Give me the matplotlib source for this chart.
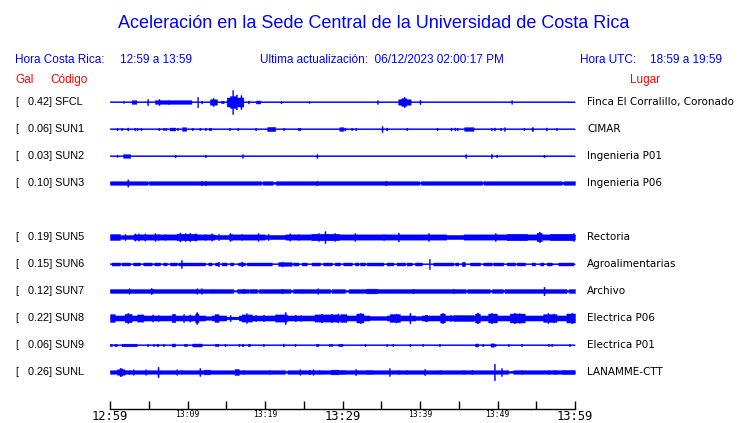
import numpy as np
import matplotlib
matplotlib.use('Agg')
import matplotlib.pyplot as plt

# ---- data (time in minutes after 12:59, amplitudes in Gal) ----
STATIONS = ['SFCL', 'SUN1', 'SUN2', 'SUN3', 'SUN4', 'SUN5', 'SUN6', 'SUN7', 'SUN8', 'SUN9', 'SUNL']
PEAK_GAL = [0.42, 0.06, 0.03, 0.10, None, 0.19, 0.15, 0.12, 0.22, 0.06, 0.26]
PLACES = ['Finca El Corralillo, Coronado', 'CIMAR', 'Ingenieria P01', 'Ingenieria P06', None,
          'Rectoria', 'Agroalimentarias', 'Archivo', 'Electrica P06', 'Electrica P01', 'LANAMME-CTT']
TICK_LABELS = ['12:59', '', '13:09', '', '13:19', '', '13:29', '', '13:39', '', '13:49', '', '13:59']

# background noise level per station
BASE = {'SFCL': 0.0, 'SUN1': 0.0, 'SUN2': 0.0, 'SUN3': 0.06, 'SUN5': 0.088, 'SUN6': 0.0,
        'SUN7': 0.065, 'SUN8': 0.085, 'SUN9': 0.0, 'SUNL': 0.06}

# (start, end, amplitude) segments
sfcl_bursts = [(2.8, 3.4, 0.06), (5.8, 10.5, 0.06), (12.9, 13.8, 0.09), (15.05, 17.2, 0.15),
               (15.5, 16.3, 0.2), (19.0, 19.4, 0.05), (37.2, 38.8, 0.09), (37.6, 38.2, 0.13)]
sun1_bursts = [(7.7, 8.4, 0.05), (9.3, 9.8, 0.06), (20.3, 21.3, 0.07), (29.6, 30.1, 0.06),
               (45.7, 46.9, 0.06), (54.4, 54.6, 0.06)]
sun2_bursts = [(1.7, 2.6, 0.06)]
sun3_bursts = [(4.85, 5.0, 0.03), (19.5, 19.7, 0.035), (21.0, 21.4, 0.03), (39.9, 40.1, 0.03),
               (48.0, 48.2, 0.035), (58.3, 58.5, 0.035)]
sun5_bursts = [(0.0, 1.29, 0.1), (1.29, 3.0, 0.065), (8.6, 11.2, 0.11), (13.5, 15.3, 0.07),
               (20.0, 22.6, 0.07), (26.0, 29.5, 0.11), (43.4, 45.6, 0.07), (51.2, 53.8, 0.11),
               (55.05, 55.7, 0.14), (56.8, 59.8, 0.11)]
sun6_bursts = [(0.22, 1.29, 0.05), (1.5, 2.58, 0.05), (3.0, 3.87, 0.05), (4.3, 5.38, 0.05),
               (5.72, 6.45, 0.05), (6.88, 7.31, 0.05), (7.74, 8.6, 0.05), (8.82, 9.46, 0.05),
               (9.46, 12.26, 0.05), (12.69, 13.12, 0.05), (13.55, 13.98, 0.05), (14.4, 15.05, 0.05),
               (15.48, 15.91, 0.05), (16.56, 17.4, 0.05), (17.63, 20.86, 0.05), (21.7, 23.44, 0.06),
               (23.66, 24.3, 0.05), (24.73, 25.38, 0.05), (26.02, 27.1, 0.05), (27.5, 28.6, 0.05),
               (29.0, 29.68, 0.05), (30.1, 31.18, 0.05), (31.61, 32.05, 0.05), (32.26, 32.9, 0.05),
               (33.12, 35.27, 0.05), (35.7, 36.56, 0.05), (36.99, 38.07, 0.05), (38.28, 38.93, 0.05),
               (39.36, 40.22, 0.05), (41.72, 44.3, 0.05), (44.52, 44.95, 0.05), (45.38, 45.81, 0.06),
               (46.45, 47.74, 0.05), (48.17, 49.25, 0.05), (49.46, 50.75, 0.05), (51.19, 52.26, 0.05),
               (52.48, 53.55, 0.05), (54.41, 54.84, 0.05), (55.49, 55.92, 0.05), (56.35, 57.0, 0.05),
               (57.85, 59.79, 0.05)]
sun7_bursts = [(15.9, 16.4, 0.02), (17.9, 18.0, 0.03), (19.0, 19.2, 0.03), (23.3, 23.6, 0.03),
               (28.4, 28.6, 0.03), (30.3, 30.8, 0.03), (33.1, 34.4, 0.08), (45.9, 46.1, 0.03),
               (49.0, 49.3, 0.03), (50.7, 50.9, 0.03), (58.9, 59.2, 0.03)]
sun8_bursts = [(0.0, 0.6, 0.13), (1.9, 2.8, 0.14), (3.5, 4.3, 0.12), (8.0, 8.4, 0.14),
               (11.0, 11.4, 0.15), (12.3, 13.1, 0.06), (13.5, 14.0, 0.13), (15.0, 16.6, 0.045),
               (17.0, 18.3, 0.12), (21.3, 22.8, 0.12), (26.4, 29.5, 0.12), (29.7, 30.5, 0.13),
               (31.8, 32.7, 0.15), (33.5, 35.7, 0.065), (36.1, 37.4, 0.13), (39.4, 40.2, 0.065),
               (40.6, 40.9, 0.11), (42.6, 43.2, 0.15), (44.3, 46.9, 0.1), (47.1, 47.7, 0.15),
               (48.8, 49.9, 0.15), (51.6, 53.5, 0.15), (55.9, 57.6, 0.13), (58.9, 60.0, 0.15)]
sun9_bursts = [(0.0, 0.22, 0.04), (0.56, 0.86, 0.04), (1.5, 3.44, 0.045), (6.0, 6.24, 0.04),
               (7.96, 8.39, 0.05), (9.55, 9.9, 0.04), (10.62, 11.83, 0.05), (13.55, 13.98, 0.04),
               (17.0, 17.2, 0.04), (17.8, 18.07, 0.04), (26.58, 26.88, 0.04), (29.46, 29.98, 0.04),
               (47.1, 47.5, 0.05), (49.1, 49.55, 0.055)]
sunl_bursts = [(0.9, 1.9, 0.09), (12.1, 12.9, 0.08), (16.1, 16.6, 0.1), (22.6, 22.9, 0.025),
               (28.5, 29.5, 0.08), (29.7, 30.3, 0.07), (33.1, 33.8, 0.07), (42.5, 42.7, 0.07),
               (51.4, 52.0, 0.03), (57.2, 57.6, 0.07), (58.3, 59.8, 0.07)]

# (time, amplitude) single spikes
sfcl_spikes = [(1.72, 0.03), (4.86, 0.1), (6.32, 0.1), (7.5, 0.07), (9.0, 0.06), (11.31, 0.17),
               (11.83, 0.05), (13.3, 0.13), (14.4, 0.04), (14.6, 0.04), (15.83, 0.4), (16.3, 0.25),
               (16.9, 0.23), (17.85, 0.05), (18.9, 0.05), (22.06, 0.04), (25.68, 0.03), (34.5, 0.06),
               (37.94, 0.17), (40.0, 0.07), (51.83, 0.06)]
sun1_spikes = [(0.9, 0.04), (1.5, 0.04), (2.3, 0.05), (3.2, 0.04), (3.5, 0.04), (4.0, 0.04),
               (6.3, 0.04), (6.9, 0.04), (7.2, 0.04), (8.7, 0.04), (10.6, 0.04), (11.6, 0.04),
               (12.3, 0.04), (12.8, 0.04), (13.0, 0.04), (15.4, 0.04), (16.5, 0.04), (18.8, 0.04),
               (22.4, 0.04), (24.3, 0.04), (24.5, 0.04), (30.3, 0.05), (31.2, 0.04), (31.7, 0.04),
               (35.1, 0.1), (35.7, 0.05), (38.3, 0.04), (42.2, 0.04), (44.0, 0.05), (44.5, 0.05),
               (44.8, 0.04), (49.2, 0.04), (49.6, 0.05), (50.4, 0.04), (50.9, 0.06), (53.4, 0.04),
               (56.3, 0.05), (57.6, 0.04)]
sun2_spikes = [(0.9, 0.03), (8.4, 0.04), (12.3, 0.04), (17.1, 0.06), (26.7, 0.06), (45.9, 0.06),
               (49.2, 0.07), (49.9, 0.04), (56.0, 0.04)]
sun3_spikes = [(2.3, 0.12), (11.8, 0.08), (12.3, 0.08), (26.7, 0.08), (35.6, 0.08)]
sun5_spikes = [(1.94, 0.1), (3.23, 0.12), (3.66, 0.12), (4.5, 0.12), (5.8, 0.13), (6.2, 0.1),
               (7.1, 0.1), (9.03, 0.15), (9.7, 0.13), (10.3, 0.14), (11.0, 0.12), (12.26, 0.1),
               (13.1, 0.12), (14.0, 0.1), (15.48, 0.13), (15.7, 0.1), (17.0, 0.1), (19.1, 0.13),
               (20.4, 0.1), (23.2, 0.12), (24.3, 0.1), (26.9, 0.13), (27.74, 0.2), (29.0, 0.13),
               (31.6, 0.13), (35.3, 0.1), (37.2, 0.15), (41.1, 0.13), (49.7, 0.13), (55.4, 0.18),
               (59.8, 0.13)]
sun6_spikes = [(9.2, 0.13), (14.0, 0.08), (17.0, 0.08), (22.2, 0.08), (41.21, 0.17), (45.6, 0.08)]
sun7_spikes = [(2.45, 0.09), (5.3, 0.1), (5.5, 0.08), (11.2, 0.09), (11.8, 0.09), (13.2, 0.07),
               (17.2, 0.08), (22.2, 0.08), (24.8, 0.07), (26.8, 0.09), (33.6, 0.08), (39.1, 0.08),
               (44.3, 0.08), (56.0, 0.14)]
sun8_spikes = [(2.3, 0.17), (5.5, 0.12), (6.2, 0.1), (9.5, 0.13), (10.3, 0.12), (11.2, 0.2),
               (15.5, 0.1), (17.6, 0.16), (18.8, 0.1), (19.8, 0.11), (22.6, 0.2), (23.9, 0.11),
               (24.6, 0.1), (27.3, 0.15), (28.6, 0.14), (29.4, 0.15), (32.3, 0.17), (36.9, 0.15),
               (38.7, 0.17), (42.9, 0.17), (43.9, 0.1), (47.4, 0.18), (49.2, 0.17), (52.2, 0.18),
               (52.8, 0.16), (56.5, 0.17), (57.2, 0.15), (59.6, 0.18)]
sun9_spikes = [(4.86, 0.04), (5.6, 0.04), (6.88, 0.04), (14.84, 0.04), (16.65, 0.04),
               (19.78, 0.04), (22.36, 0.05), (23.87, 0.04), (28.3, 0.04), (28.6, 0.04), (32.9, 0.04),
               (35.7, 0.04), (36.5, 0.04), (38.7, 0.04), (40.35, 0.04), (42.5, 0.04), (48.1, 0.04),
               (49.68, 0.04), (51.4, 0.04), (53.1, 0.04), (56.56, 0.04), (57.0, 0.04), (59.27, 0.04)]
sunl_spikes = [(1.3, 0.14), (1.5, 0.12), (2.45, 0.07), (3.0, 0.09), (4.6, 0.09), (6.2, 0.17),
               (8.6, 0.09), (9.2, 0.07), (11.6, 0.13), (17.2, 0.07), (20.6, 0.07), (24.5, 0.09),
               (25.7, 0.08), (26.2, 0.09), (27.0, 0.07), (31.7, 0.1), (36.05, 0.13), (37.2, 0.07),
               (38.3, 0.07), (40.6, 0.1), (45.6, 0.07), (46.7, 0.07), (49.6, 0.27), (50.5, 0.13),
               (53.1, 0.07), (56.6, 0.07)]

BURSTS = {'SFCL': sfcl_bursts, 'SUN1': sun1_bursts, 'SUN2': sun2_bursts, 'SUN3': sun3_bursts,
          'SUN5': sun5_bursts, 'SUN6': sun6_bursts, 'SUN7': sun7_bursts, 'SUN8': sun8_bursts,
          'SUN9': sun9_bursts, 'SUNL': sunl_bursts}
SPIKES = {'SFCL': sfcl_spikes, 'SUN1': sun1_spikes, 'SUN2': sun2_spikes, 'SUN3': sun3_spikes,
          'SUN5': sun5_spikes, 'SUN6': sun6_spikes, 'SUN7': sun7_spikes, 'SUN8': sun8_spikes,
          'SUN9': sun9_spikes, 'SUNL': sunl_spikes}

# ---- style / layout ----
W, H = 740, 423
BLUE = '#0000ff'
RED = '#ff0000'
GAL_PX = 30.0          # pixels per Gal on the trace scale
ROW0, ROW_STEP = 102, 27
t = np.arange(0, 60.0001, 0.02)


def envelope(base, bursts, spikes):
    env = np.full_like(t, base)
    for t0, t1, a in bursts:
        env[(t >= t0) & (t <= t1)] = a
    for tc, a in spikes:
        m = np.abs(t - tc) <= 0.07
        env[m] = np.maximum(env[m], a)
    return env


def put(x, y, s, **kw):
    kw.setdefault('va', 'center')
    fig.text(x / W, 1 - y / H, s, **kw)


fig = plt.figure(figsize=(W / 100, H / 100), dpi=100)
ax = fig.add_axes([110 / W, 1 - 409 / H, 465 / W, (409 - 85) / H])
ax.set_xlim(0, 60)
ax.set_ylim(409, 85)

for i, name in enumerate(STATIONS):
    if PEAK_GAL[i] is None:
        continue
    y0 = ROW0 + ROW_STEP * i
    env = envelope(BASE[name], BURSTS[name], SPIKES[name])
    ax.fill_between(t, y0 - env * GAL_PX, y0 + env * GAL_PX, step='mid',
                    color=BLUE, lw=0.3)
    ax.plot(t, np.full_like(t, y0), color=BLUE, lw=0.8)
    put(15, y0, '[', fontsize=7.8, family='Liberation Sans')
    put(28, y0, '%.2f] %s' % (PEAK_GAL[i], name), fontsize=7.8, family='Liberation Sans')
    put(587, y0, PLACES[i], fontsize=7.5, family='DejaVu Sans')

for s in ['left', 'right', 'top']:
    ax.spines[s].set_visible(False)
ax.spines['bottom'].set_linewidth(1.0)
ax.set_yticks([])
ax.set_xticks(np.arange(0, 61, 5))
ax.set_xticklabels(TICK_LABELS, family='DejaVu Sans Mono')
ax.tick_params(axis='x', direction='in', length=6, width=1.0, pad=0.8)
for lab in ax.get_xticklabels():
    lab.set_fontsize(8.7 if lab.get_text() in ('12:59', '13:29', '13:59') else 5.8)

put(374, 23, 'Aceleración en la Sede Central de la Universidad de Costa Rica',
    ha='center', fontsize=13, color=BLUE, family='Liberation Sans')
put(15, 60, 'Hora Costa Rica:', fontsize=8.5, color=BLUE, family='Liberation Sans')
put(120, 60, '12:59 a 13:59', fontsize=8.5, color=BLUE, family='Liberation Sans')
put(260, 60, 'Ultima actualización:  06/12/2023 02:00:17 PM', fontsize=8.5, color=BLUE,
    family='Liberation Sans')
put(580, 60, 'Hora UTC:', fontsize=8.5, color=BLUE, family='Liberation Sans')
put(650, 60, '18:59 a 19:59', fontsize=8.5, color=BLUE, family='Liberation Sans')
put(15, 80, 'Gal', fontsize=8.5, color=RED, family='Liberation Sans')
put(50, 80, 'Código', fontsize=8.5, color=RED, family='Liberation Sans')
put(630, 80, 'Lugar', fontsize=8.5, color=RED, family='Liberation Sans')

fig.savefig('out.png', dpi=100)
